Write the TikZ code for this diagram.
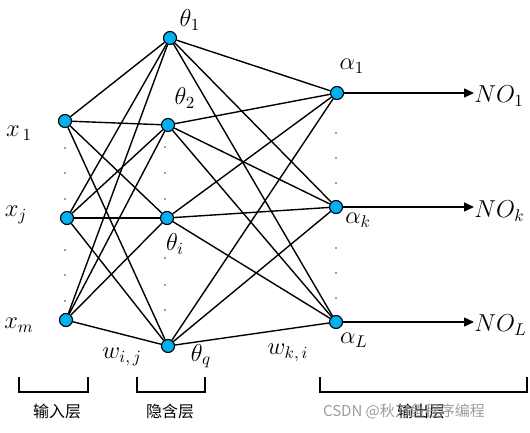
\documentclass[tikz,border=0pt]{standalone}
\usepackage{amsmath,amssymb}
\usepackage{fontspec}
\usepackage{xcolor}
\usepackage{tikz}
\usetikzlibrary{arrows.meta,calc,positioning}
\newfontfamily\cjk{Noto Sans CJK SC}
\definecolor{neuron}{HTML}{00B0F0}
\definecolor{dotblue}{HTML}{1F3F8F}

\begin{document}
\begin{tikzpicture}[
    x=1pt,y=-1pt,
    n/.style={circle,draw=black,line width=1.1pt,fill=neuron,
              minimum size=13pt,inner sep=0pt},
    lab/.style={inner sep=0pt,scale=1.7,transform shape,
                font=\fontsize{14}{17}\selectfont},
    layer/.style={inner sep=0pt,font=\cjk\fontsize{16}{18}\selectfont},
    w/.style={line width=1.4pt,black},
    brk/.style={line width=1.8pt,black}
  ]
    \useasboundingbox (0,0) rectangle (530,433);
    % input layer
    \node[n] (in1) at (65,121) {};
    \node[n] (inj) at (67,218) {};
    \node[n] (inm) at (66,320) {};
    % hidden layer
    \node[n] (h1) at (170,38) {};
    \node[n] (h2) at (168,125) {};
    \node[n] (hi) at (167,218) {};
    \node[n] (hq) at (168,346) {};
    % output layer
    \node[n] (o1) at (337,93) {};
    \node[n] (ok) at (336,207) {};
    \node[n] (oL) at (336,322) {};
    % labels
    \node[lab] (lx1) at (19,133) {$x_{\,1}$};
    \node[lab] (lxj) at (16,215) {$x_{j}$};
    \node[lab] (lxm) at (19,325) {$x_{m}$};
    \node[lab] (lt1) at (190,20) {$\theta_1$};
    \node[lab] (lt2) at (185,98) {$\theta_2$};
    \node[lab] (lti) at (175,244) {$\theta_i$};
    \node[lab] (ltq) at (201,356) {$\theta_q$};
    \node[lab] (la1) at (352,66) {$\alpha_1$};
    \node[lab] (lak) at (358,220) {$\alpha_k$};
    \node[lab] (laL) at (354,340) {$\alpha_L$};
    \node[lab] (wij) at (122,357) {$w_{i,\,j}$};
    \node[lab] (wki) at (288,353) {$w_{k,\,i}$};
    \node[lab,anchor=west] (no1) at (474,96) {$NO_1$};
    \node[lab,anchor=west] (nok) at (474,211) {$NO_k$};
    \node[lab,anchor=west] (noL) at (474,325) {$NO_L$};
    % input -> hidden
    \draw[w] (in1) -- (h1);  \draw[w] (in1) -- (h2);
    \draw[w] (in1) -- (hi);  \draw[w] (in1) -- (hq);
    \draw[w] (inj) -- (h1);  \draw[w] (inj) -- (h2);
    \draw[w] (inj) -- (hi);  \draw[w] (inj) -- (hq);
    \draw[w] (inm) -- (h1);  \draw[w] (inm) -- (h2);
    \draw[w] (inm) -- (hi);  \draw[w] (inm) -- (hq);
    % hidden -> output
    \draw[w] (h1) -- (o1);  \draw[w] (h1) -- (ok);  \draw[w] (h1) -- (oL);
    \draw[w] (h2) -- (o1);  \draw[w] (h2) -- (ok);  \draw[w] (h2) -- (oL);
    \draw[w] (hi) -- (o1);  \draw[w] (hi) -- (ok);  \draw[w] (hi) -- (oL);
    \draw[w] (hq) -- (o1);  \draw[w] (hq) -- (ok);  \draw[w] (hq) -- (oL);
    % outputs
    \draw[w,-{Triangle[length=10pt,width=9pt]}] (o1) -- (o1 -| no1.west);
    \draw[w,-{Triangle[length=10pt,width=9pt]}] (ok) -- (ok -| nok.west);
    \draw[w,-{Triangle[length=10pt,width=9pt]}] (oL) -- (oL -| noL.west);
    % ellipsis dots
    \foreach \y in {148,173,199,250,275,301} \fill[dotblue] (65,\y) circle (0.9);
    \foreach \y in {147,173,199,258,285,310} \fill[dotblue] (165,\y) circle (0.9);
    \foreach \y in {133,158,183,248,273,298} \fill[dotblue] (336,\y) circle (0.9);
    % layer brackets
    \draw[brk] (19,377) -- (19,392) -- (88,392) -- (88,377);
    \draw[brk] (137,377) -- (137,392) -- (205,392) -- (205,377);
    \draw[brk] (320,377) -- (320,392) -- (527,392) -- (527,377);
    \node[layer] (tin) at (57,411) {输入层};
    \node[layer] (thid) at (170,411) {隐含层};
    \node[layer] (tout) at (421,411) {输出层};
    \node[layer,text=black!45,opacity=0.85] (mark) at (404,411)
      {\fontsize{15}{17}\selectfont CSDN @秋刀鱼程序编程};
  \end{tikzpicture}
\end{document}
